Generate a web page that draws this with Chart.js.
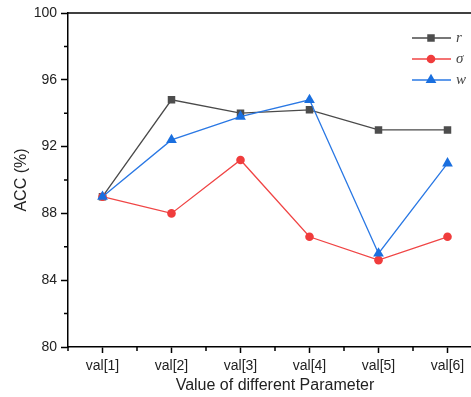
<!DOCTYPE html>
<html lang="en">
<head>
    <meta charset="UTF-8">
    <title>ACC vs parameter</title>
    <style>
        html, body { margin: 0; padding: 0; overflow: hidden; background: #fff; }
        #wrap { width: 490px; height: 397px; }
    </style>
</head>
<body>
    <div id="wrap"><canvas id="accChart"></canvas></div>

    <script src="https://cdn.jsdelivr.net/npm/chart.js"></script>
    <script>
        // data
        const categories = ['val[1]', 'val[2]', 'val[3]', 'val[4]', 'val[5]', 'val[6]'];
        const seriesNames = ['r', 'σ', 'w'];
        const rValues = [89.0, 94.8, 94.0, 94.2, 93.0, 93.0];
        const sigmaValues = [89.0, 88.0, 91.2, 86.6, 85.2, 86.6];
        const wValues = [89.0, 92.4, 93.8, 94.8, 85.6, 91.0];
        const yMinorTicks = [82, 86, 90, 94, 98];

        const labelFont = "'Liberation Sans', Arial, sans-serif";

        const styles = [
            { line: '#4a4a4a', point: '#4d4d4d', shape: 'rect', radius: 5.3 },
            { line: '#f04545', point: '#f03c3c', shape: 'circle', radius: 4.3 },
            { line: '#2a78e4', point: '#1a6fdf', shape: 'triangle', radius: 6.2 }
        ];

        // top frame line, minor ticks and the in-plot legend
        const axisExtras = {
            id: 'axisExtras',
            afterDraw(chart) {
                const { ctx, chartArea: a, scales: { x, y } } = chart;
                ctx.save();
                ctx.strokeStyle = '#000';
                ctx.lineWidth = 1.5;
                ctx.beginPath();
                ctx.moveTo(a.left, a.top);
                ctx.lineTo(a.right, a.top);
                ctx.stroke();

                ctx.beginPath();
                yMinorTicks.forEach(v => {
                    const py = y.getPixelForValue(v);
                    ctx.moveTo(a.left, py);
                    ctx.lineTo(a.left - 4, py);
                });
                const half = (x.getPixelForValue(1) - x.getPixelForValue(0)) / 2;
                for (let i = 0; i <= categories.length; i++) {
                    const px = x.getPixelForValue(i) - half;
                    ctx.moveTo(px, a.bottom);
                    ctx.lineTo(px, a.bottom + 4);
                }
                ctx.stroke();

                // legend
                ctx.font = "italic 15px 'Liberation Serif', 'Times New Roman', serif";
                ctx.textBaseline = 'middle';
                ctx.textAlign = 'left';
                seriesNames.forEach((name, i) => {
                    const s = styles[i];
                    const ly = 38 + i * 21;
                    ctx.strokeStyle = s.line;
                    ctx.lineWidth = 1.5;
                    ctx.beginPath();
                    ctx.moveTo(412, ly);
                    ctx.lineTo(451, ly);
                    ctx.stroke();
                    ctx.fillStyle = s.point;
                    Chart.helpers.drawPoint(ctx, { pointStyle: s.shape, radius: s.radius, rotation: 0, borderWidth: 0 }, 431, ly);
                    ctx.fillStyle = '#444';
                    ctx.fillText(name, 456, ly);
                });
                ctx.restore();
            }
        };

        const seriesValues = [rValues, sigmaValues, wValues];
        const datasets = seriesNames.map((name, i) => ({
            label: name,
            data: seriesValues[i],
            borderColor: styles[i].line,
            backgroundColor: styles[i].point,
            pointBackgroundColor: styles[i].point,
            pointBorderColor: styles[i].point,
            pointBorderWidth: 0,
            pointStyle: styles[i].shape,
            pointRadius: styles[i].radius,
            borderWidth: 1.3,
            tension: 0,
            order: 2 - i
        }));

        new Chart(document.getElementById('accChart'), {
            type: 'line',
            data: { labels: categories, datasets: datasets },
            options: {
                responsive: true,
                maintainAspectRatio: false,
                animation: false,
                layout: { padding: { top: 13, right: 8, left: 0, bottom: 0 } },
                plugins: { legend: { display: false }, tooltip: { enabled: false } },
                scales: {
                    x: {
                        type: 'category',
                        offset: true,
                        grid: { drawOnChartArea: false, offset: false, tickLength: 6, tickWidth: 1.5, tickColor: '#000' },
                        border: { color: '#000', width: 1.5 },
                        ticks: { color: '#222', padding: 5, maxRotation: 0, font: { family: labelFont, size: 14 } },
                        title: {
                            display: true,
                            text: 'Value of different Parameter',
                            color: '#222',
                            padding: { top: 0, bottom: 2 },
                            font: { family: labelFont, size: 16 }
                        },
                        afterFit(scale) { scale.height = 50; }
                    },
                    y: {
                        min: 80,
                        max: 100,
                        grid: { drawOnChartArea: false, tickLength: 7, tickWidth: 1.5, tickColor: '#000' },
                        border: { color: '#000', width: 1.5 },
                        ticks: { stepSize: 4, color: '#222', padding: 4, font: { family: labelFont, size: 14 } },
                        title: {
                            display: true,
                            text: 'ACC (%)',
                            color: '#222',
                            padding: { top: 12, bottom: 0 },
                            font: { family: labelFont, size: 16 }
                        },
                        afterFit(scale) { scale.width = 68; }
                    }
                }
            },
            plugins: [axisExtras]
        });
    </script>
</body>
</html>
